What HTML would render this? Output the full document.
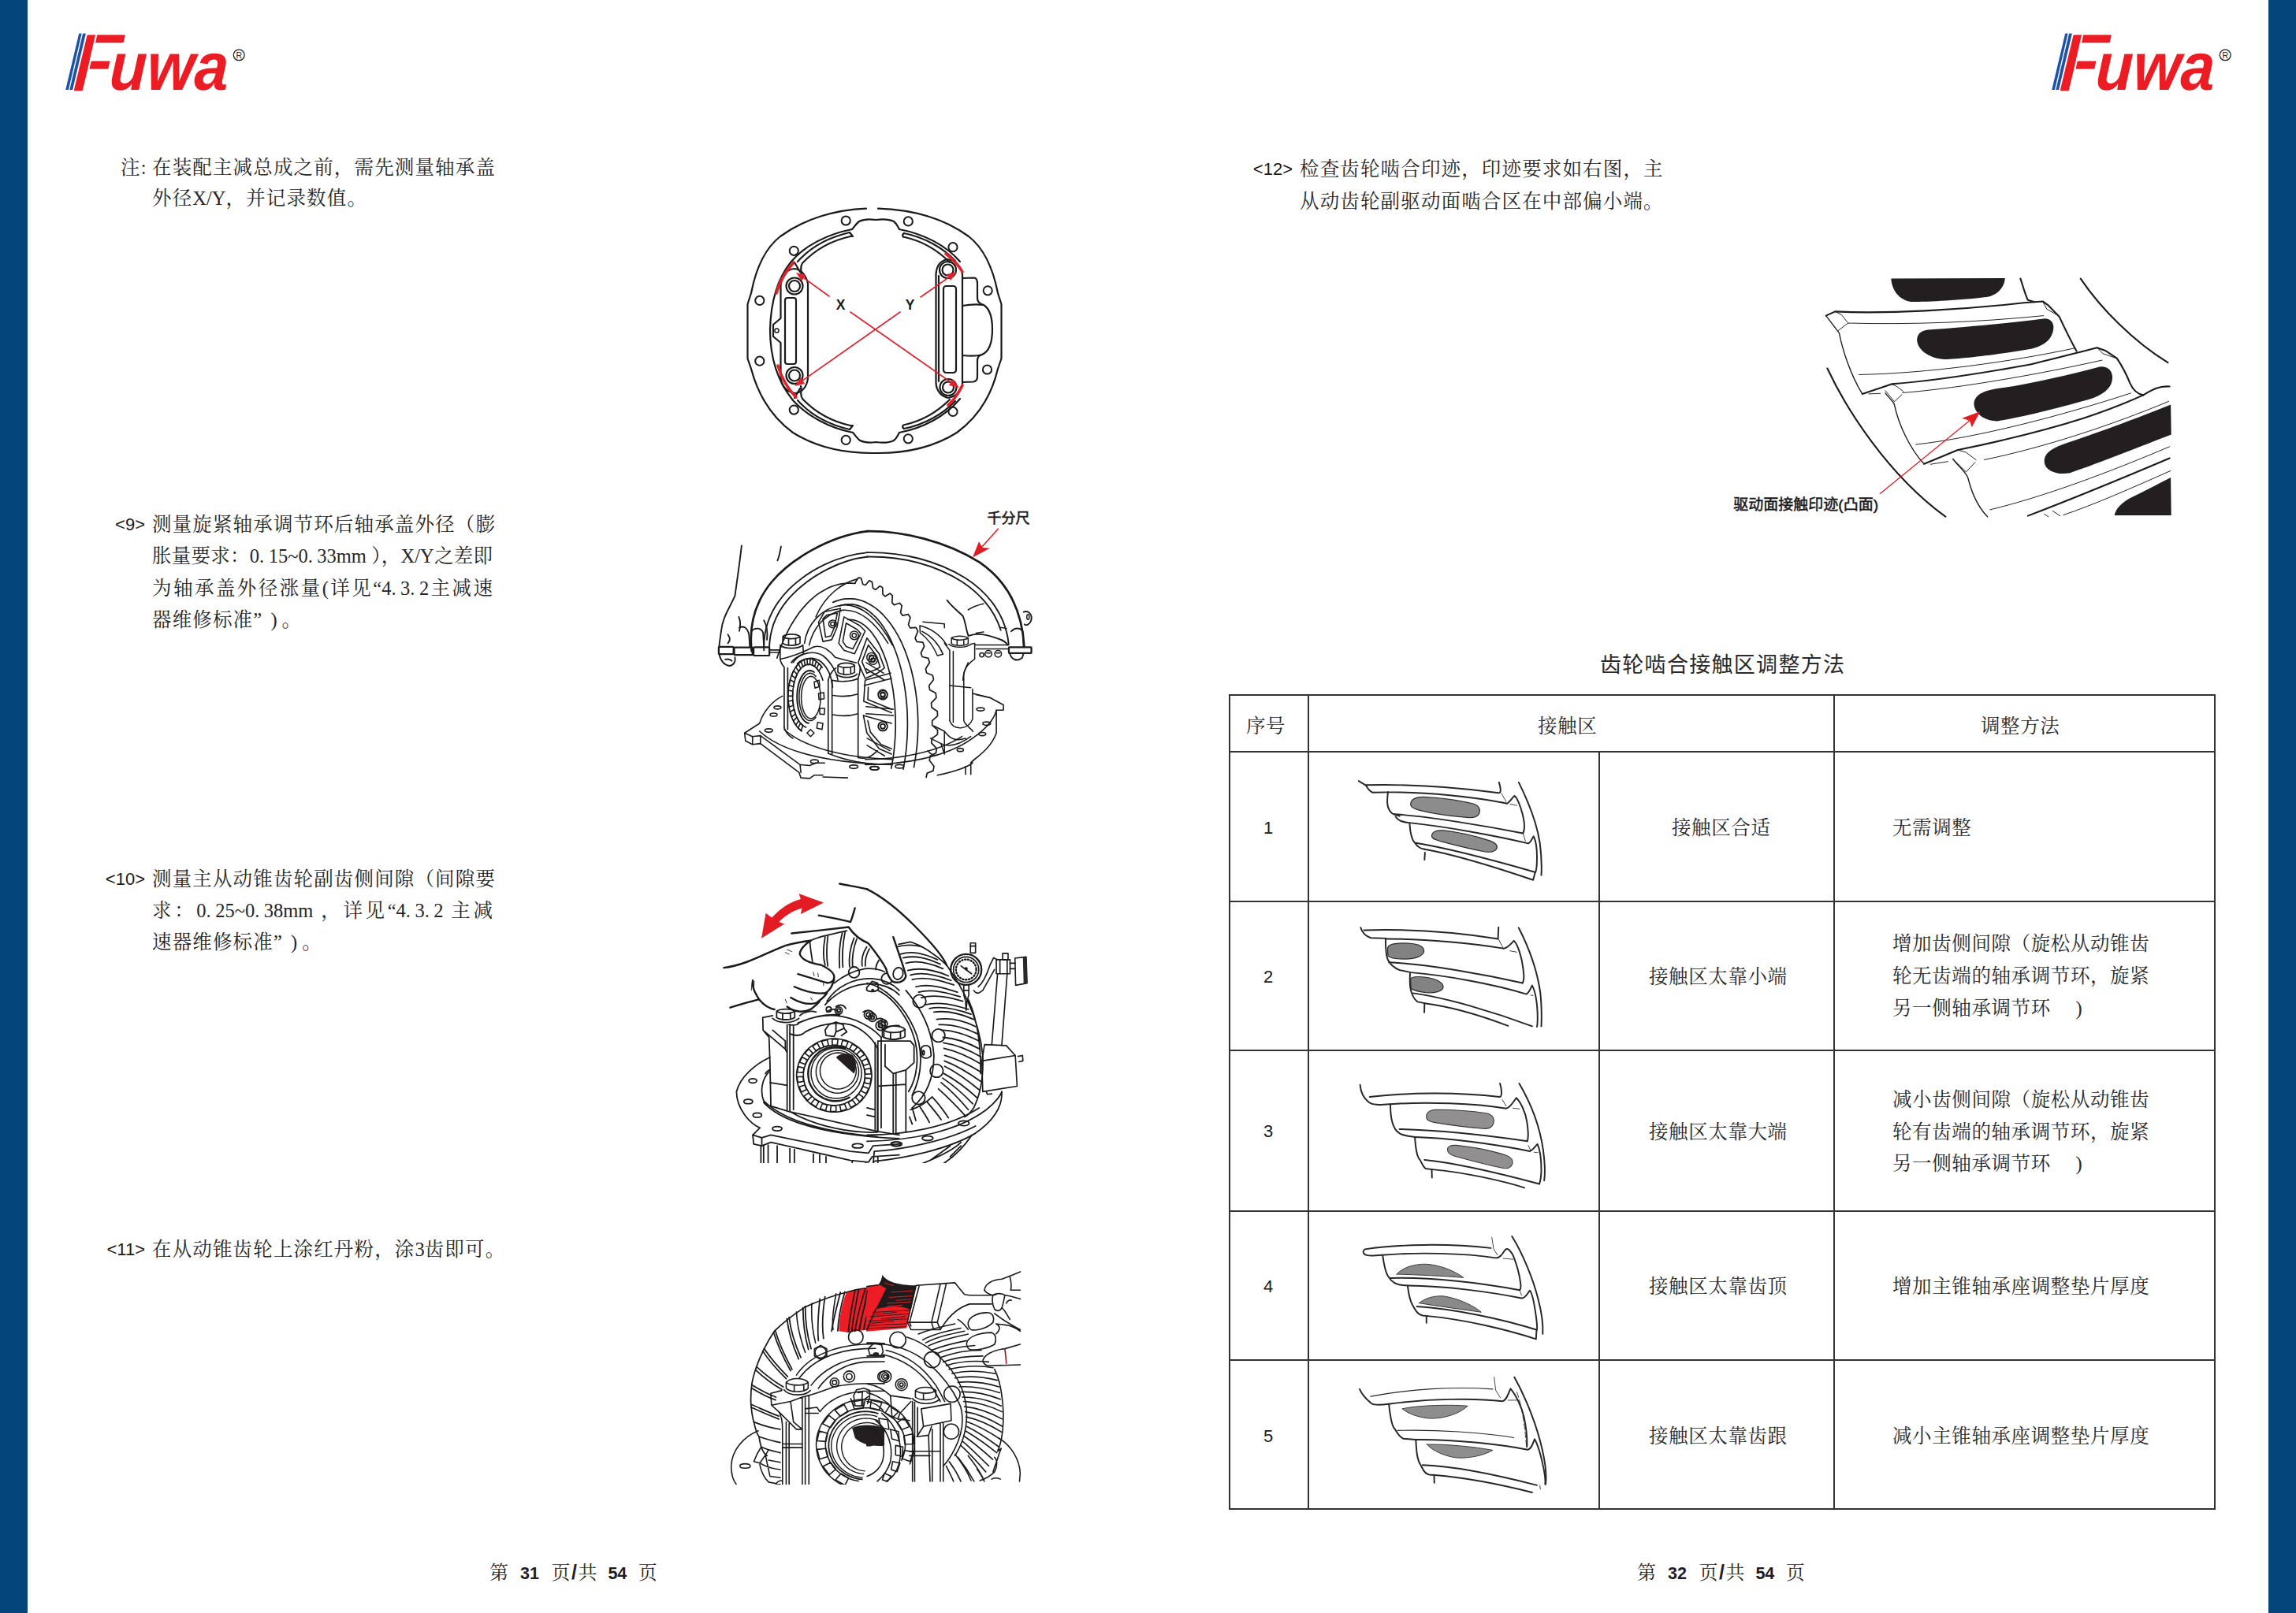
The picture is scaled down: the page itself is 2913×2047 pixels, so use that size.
<!DOCTYPE html>
<html lang="zh-CN">
<head>
<meta charset="utf-8">
<title>Fuwa 主减速器维修手册 第31-32页</title>
<style>
html,body{margin:0;padding:0;background:#fff;}
body{width:2913px;height:2047px;position:relative;overflow:hidden;font-family:"Liberation Serif","Noto Serif CJK SC",serif;color:#222;}
.bar{position:absolute;top:0;width:35px;height:2047px;background:#04457a;}
.t{position:absolute;white-space:nowrap;font-family:"Liberation Serif","Noto Serif CJK SC",serif;font-size:24.5px;letter-spacing:1.15px;line-height:40px;height:40px;color:#262626;font-weight:400;}
.n{position:absolute;white-space:nowrap;font-family:"Liberation Sans","Noto Sans CJK SC",sans-serif;font-size:22px;line-height:40px;height:40px;color:#1a1a1a;text-align:right;width:80px;}
.pg{position:absolute;white-space:nowrap;font-family:"Liberation Serif","Noto Serif CJK SC",serif;font-size:24px;line-height:40px;color:#2a2a2a;}
.g{display:inline-block;height:1px;}
.pg b.sl{font-size:25px;font-weight:700;padding:0 1.5px;}
.pg b{font-family:"Liberation Sans","Noto Sans CJK SC",sans-serif;font-weight:700;font-size:21.5px;color:#1c1c24;}
.ttl{position:absolute;white-space:nowrap;font-family:"Liberation Sans","Noto Sans CJK SC",sans-serif;font-size:27px;letter-spacing:1.3px;line-height:40px;color:#2a2a2a;}
.hl{position:absolute;height:2px;background:#333;}
.vl{position:absolute;width:2px;background:#333;}
.c{position:absolute;white-space:nowrap;font-family:"Liberation Serif","Noto Serif CJK SC",serif;font-size:24.5px;letter-spacing:0.6px;line-height:40px;height:40px;color:#2a2a2a;}
.num{position:absolute;white-space:nowrap;font-family:"Liberation Sans",sans-serif;font-size:22px;line-height:40px;height:40px;color:#1a1a1a;width:100px;text-align:center;}
.j{width:432px;text-align:justify;text-align-last:justify;letter-spacing:0;}
.l{font-family:"Liberation Serif",serif;letter-spacing:0;}
.d{display:inline-block;width:11.6px;font-style:normal;text-align:left;}
svg{position:absolute;overflow:visible;}
</style>
</head>
<body>
<div class="bar" style="left:0"></div>
<div class="bar" style="left:2878px"></div>

<!-- LOGOS -->
<svg style="left:78px;top:36px" width="250" height="86" viewBox="78 36 250 86">
<polygon points="100.2,42.6 103.6,42.6 86.9,113.9 83.2,113.9" fill="#1c52a8"/>
<polygon points="105.1,42.6 108.9,42.6 92.1,113.9 88.3,113.9" fill="#1c52a8"/>
<g transform="translate(0,113.9) skewX(-3.3) translate(0,-113.9)"><text x="92.2" y="113.9" font-family="'Liberation Sans',sans-serif" font-weight="400" font-style="italic" font-size="99.5" fill="#ec1c24" stroke="#ec1c24" stroke-width="2.4" stroke-linejoin="round" textLength="57" lengthAdjust="spacingAndGlyphs">F</text></g>
<polygon points="121.8,41 124,41 113.4,88 111.2,88" fill="#fff"/><polygon points="140,75 148,75 145.2,88 137.2,88" fill="#fff"/>
<g transform="translate(0,113.9) skewX(-2.5) translate(0,-113.9)"><text x="138" y="113.9" font-family="'Liberation Sans',sans-serif" font-weight="700" font-style="italic" font-size="86" fill="#ec1c24" textLength="151" lengthAdjust="spacingAndGlyphs">uwa</text></g>
<circle cx="303.2" cy="69.8" r="6.9" fill="none" stroke="#222" stroke-width="1.3"/>
<text x="303.3" y="73.6" font-family="'Liberation Sans',sans-serif" font-size="10.5" fill="#222" text-anchor="middle">R</text>
</svg>
<svg style="left:2598px;top:36px" width="250" height="86" viewBox="78 36 250 86">
<polygon points="100.2,42.6 103.6,42.6 86.9,113.9 83.2,113.9" fill="#1c52a8"/>
<polygon points="105.1,42.6 108.9,42.6 92.1,113.9 88.3,113.9" fill="#1c52a8"/>
<g transform="translate(0,113.9) skewX(-3.3) translate(0,-113.9)"><text x="92.2" y="113.9" font-family="'Liberation Sans',sans-serif" font-weight="400" font-style="italic" font-size="99.5" fill="#ec1c24" stroke="#ec1c24" stroke-width="2.4" stroke-linejoin="round" textLength="57" lengthAdjust="spacingAndGlyphs">F</text></g>
<polygon points="121.8,41 124,41 113.4,88 111.2,88" fill="#fff"/><polygon points="140,75 148,75 145.2,88 137.2,88" fill="#fff"/>
<g transform="translate(0,113.9) skewX(-2.5) translate(0,-113.9)"><text x="138" y="113.9" font-family="'Liberation Sans',sans-serif" font-weight="700" font-style="italic" font-size="86" fill="#ec1c24" textLength="151" lengthAdjust="spacingAndGlyphs">uwa</text></g>
<circle cx="303.2" cy="69.8" r="6.9" fill="none" stroke="#222" stroke-width="1.3"/>
<text x="303.3" y="73.6" font-family="'Liberation Sans',sans-serif" font-size="10.5" fill="#222" text-anchor="middle">R</text>
</svg>

<!-- LEFT PAGE TEXT -->
<div class="t" style="left:153px;top:193px">注:</div>
<div class="t" style="left:193px;top:193px">在装配主减总成之前，需先测量轴承盖</div>
<div class="t" style="left:193px;top:232px">外径<span class="l">X/Y</span>，并记录数值。</div>

<div class="n" style="left:104px;top:646px">&lt;9&gt;</div>
<div class="t" style="left:193px;top:646px">测量旋紧轴承调节环后轴承盖外径（膨</div>
<div class="t j" style="left:193px;top:686px">胀量要求：<span class="l">0<i class="d">.</i>15~0<i class="d">.</i>33mm</span> ），<span class="l">X/Y</span>之差即</div>
<div class="t j" style="left:193px;top:727px">为轴承盖外径涨量<span class="l">(</span>详见“<span class="l">4<i class="d">.</i>3<i class="d">.</i>2</span>主减速</div>
<div class="t" style="left:193px;top:767px">器维修标准”<span class="l" style="margin:0 6px 0 4px">&nbsp;)</span>。</div>

<div class="n" style="left:104px;top:1096px">&lt;10&gt;</div>
<div class="t" style="left:193px;top:1096px">测量主从动锥齿轮副齿侧间隙（间隙要</div>
<div class="t j" style="left:193px;top:1136px">求：<span class="l">0<i class="d">.</i>25~0<i class="d">.</i>38mm</span> ，详见“<span class="l">4<i class="d">.</i>3<i class="d">.</i>2</span> 主减</div>
<div class="t" style="left:193px;top:1176px">速器维修标准”<span class="l" style="margin:0 6px 0 4px">&nbsp;)</span>。</div>

<div class="n" style="left:104px;top:1566px">&lt;11&gt;</div>
<div class="t" style="left:193px;top:1566px">在从动锥齿轮上涂红丹粉，涂<span class="l">3</span>齿即可。</div>

<!-- RIGHT PAGE TEXT -->
<div class="n" style="left:1560px;top:195px">&lt;12&gt;</div>
<div class="t" style="left:1649px;top:195px">检查齿轮啮合印迹，印迹要求如右图，主</div>
<div class="t" style="left:1649px;top:236px">从动齿轮副驱动面啮合区在中部偏小端。</div>

<!-- PAGE NUMBERS -->
<div class="pg" style="left:621px;top:1975px">第<i class="g" style="width:15px"></i><b>31</b><i class="g" style="width:15.5px"></i>页<b class="sl">/</b>共<i class="g" style="width:14px"></i><b>54</b><i class="g" style="width:14.5px"></i>页</div>
<div class="pg" style="left:2077px;top:1975px">第<i class="g" style="width:15px"></i><b>32</b><i class="g" style="width:15.5px"></i>页<b class="sl">/</b>共<i class="g" style="width:14px"></i><b>54</b><i class="g" style="width:14.5px"></i>页</div>

<!-- TABLE -->
<div class="ttl" style="left:2030px;top:824px">齿轮啮合接触区调整方法</div>
<div class="hl" style="left:1559px;top:881px;width:1252px"></div>
<div class="hl" style="left:1559px;top:953px;width:1252px"></div>
<div class="hl" style="left:1559px;top:1143px;width:1252px"></div>
<div class="hl" style="left:1559px;top:1332px;width:1252px"></div>
<div class="hl" style="left:1559px;top:1536px;width:1252px"></div>
<div class="hl" style="left:1559px;top:1725px;width:1252px"></div>
<div class="hl" style="left:1559px;top:1914px;width:1252px"></div>
<div class="vl" style="left:1559px;top:881px;height:1035px"></div>
<div class="vl" style="left:1659px;top:881px;height:1035px"></div>
<div class="vl" style="left:2028px;top:953px;height:963px"></div>
<div class="vl" style="left:2326px;top:881px;height:1035px"></div>
<div class="vl" style="left:2809px;top:881px;height:1035px"></div>

<div class="c" style="left:1581px;top:902px">序号</div>
<div class="c" style="left:1951px;top:902px">接触区</div>
<div class="c" style="left:2513px;top:902px">调整方法</div>

<div class="num" style="left:1559px;top:1031px">1</div>
<div class="num" style="left:1559px;top:1220px">2</div>
<div class="num" style="left:1559px;top:1416px">3</div>
<div class="num" style="left:1559px;top:1613px">4</div>
<div class="num" style="left:1559px;top:1803px">5</div>

<div class="c" style="left:2121px;top:1031px">接触区合适</div>
<div class="c" style="left:2092px;top:1220px">接触区太靠小端</div>
<div class="c" style="left:2092px;top:1417px">接触区太靠大端</div>
<div class="c" style="left:2092px;top:1613px">接触区太靠齿顶</div>
<div class="c" style="left:2092px;top:1803px">接触区太靠齿跟</div>

<div class="c" style="left:2401px;top:1031px">无需调整</div>
<div class="c" style="left:2401px;top:1178px">增加齿侧间隙（旋松从动锥齿</div>
<div class="c" style="left:2401px;top:1219px">轮无齿端的轴承调节环，旋紧</div>
<div class="c" style="left:2401px;top:1260px">另一侧轴承调节环　 )</div>
<div class="c" style="left:2401px;top:1376px">减小齿侧间隙（旋松从动锥齿</div>
<div class="c" style="left:2401px;top:1417px">轮有齿端的轴承调节环，旋紧</div>
<div class="c" style="left:2401px;top:1457px">另一侧轴承调节环　 )</div>
<div class="c" style="left:2401px;top:1613px">增加主锥轴承座调整垫片厚度</div>
<div class="c" style="left:2401px;top:1803px">减小主锥轴承座调整垫片厚度</div>

<!-- ILLUSTRATIONS -->
<!--FIG1S--><svg style="left:930px;top:250px" width="360" height="340" viewBox="930 250 360 340" fill="none" stroke="#1a1a1a" stroke-width="2.2" stroke-linecap="round" stroke-linejoin="round">
<!-- outer housing outline -->
<path d="M1099,264.6 C1060,266 1020,278 990,300 C972,314 960,336 953,372 L948.5,386 L948.5,455 L953,468 C962,502 980,530 1006,549 C1036,568 1072,575.5 1110,575 C1148,575.5 1184,568 1214,549 C1240,530 1258,502 1266,468 L1270.5,455 L1270.5,386 L1266,372 C1259,336 1247,314 1229,300 C1199,278 1159,266 1114,264.6"/>
<!-- inner ring outer edge -->
<path d="M1081,291 C1050,297 1020,312 1003,333 C988,352 978,380 977,418 C977,455 988,486 1006,508 C1024,528 1052,543 1082,549"/>
<path d="M1141,291 C1172,297 1200,311 1218,332 M1218,506 C1200,528 1172,543 1141,549"/>
<!-- top notch -->
<path d="M1081,291 C1084,288 1086,284 1090,281 C1096,278 1104,278 1111,279 C1118,278 1128,278 1134,281 C1138,284 1139,288 1141,291"/>
<path d="M1082,549 C1085,552 1087,556 1091,559 C1097,562 1104,562 1111,561 C1118,562 1128,562 1134,559 C1138,556 1139,552 1141,549"/>
<!-- inner rib arcs top-left -->
<path d="M1078,295 C1052,301 1028,314 1012,332 M1079,300 C1056,305 1034,317 1018,334 C1014,340 1018,344 1016,350"/>
<path d="M1078,295 L1082,300 L1079,300" />
<path d="M1147,296 C1172,301 1196,314 1212,331 M1148,301 C1170,306 1190,318 1205,333"/>
<path d="M1147,296 C1144,298 1145,301 1148,301"/>
<path d="M1078,545 C1052,539 1028,526 1012,508 M1079,540 C1056,535 1034,523 1018,506 C1014,500 1018,496 1016,490"/>
<path d="M1078,545 L1082,540 L1079,540"/>
<path d="M1147,544 C1172,539 1196,526 1212,509 M1148,539 C1170,534 1190,522 1205,507"/>
<path d="M1147,544 C1144,542 1145,539 1148,539"/>
<!-- bolt holes -->
<g stroke-width="2">
<circle cx="1073.2" cy="280" r="5.6"/><circle cx="1152.3" cy="280.9" r="5.6"/>
<circle cx="1007.3" cy="318.3" r="5.6"/><circle cx="1209" cy="313.7" r="5.6"/>
<circle cx="963.8" cy="381.4" r="5.6"/><circle cx="1253.2" cy="368.8" r="5.6"/>
<circle cx="963.8" cy="458.2" r="5.6"/><circle cx="1252.5" cy="469" r="5.6"/>
<circle cx="1007.3" cy="520.1" r="5.6"/><circle cx="1209" cy="522.4" r="5.6"/>
<circle cx="1073.2" cy="558.4" r="5.6"/><circle cx="1152.3" cy="556.8" r="5.6"/>
</g>
<!-- left bearing cap -->
<path d="M1008,341 C998,342 992,350 990.5,362 L990.5,404 L981,412 L981,427 L990.5,435 L990.5,480 C992,492 1000,498 1009,499 C1018,498 1024,490 1025,480 L1025,360 C1023,350 1017,342 1008,341 Z"/>
<rect x="996" y="378" width="14" height="84" rx="3"/>
<circle cx="1008" cy="363" r="10.5"/><circle cx="1008" cy="363" r="7"/>
<circle cx="1008" cy="476.5" r="10.5"/><circle cx="1008" cy="476.5" r="7"/>
<circle cx="985.5" cy="419.5" r="2.6" stroke-width="1.5"/>
<path d="M1008,333 L1015,345 M1008,505 L1015,493"/>
<!-- right bearing cap -->
<path d="M1202,329 C1193,331 1188,338 1187.5,348 L1187.5,486 C1188,496 1194,503 1203,505 C1212,503 1219,497 1221,488 L1221,348 C1219,338 1212,331 1202,329 Z"/>
<path d="M1191,350 L1191,484"/>
<rect x="1197" y="363" width="16" height="110" rx="3.5"/>
<circle cx="1202.5" cy="342.5" r="10.5"/><circle cx="1202.5" cy="342.5" r="7"/>
<circle cx="1203" cy="491.5" r="10.5"/><circle cx="1203" cy="491.5" r="7"/>
<!-- right bracket -->
<path d="M1221,353 L1236,352.5 C1239,353 1240,356 1240,360 L1240,378 C1240,384 1244,386 1248,387 C1256,392 1259,404 1259,418 C1259,434 1255,446 1246,450 C1241,451 1240,454 1240,458 L1240,478 C1240,482 1238,484 1235,484.5 L1221,485"/>
<path d="M1221,388 C1232,386 1240,386 1248,387 M1221,451 C1232,452 1240,452 1246,450"/>
<!-- red measurement lines -->
<g stroke="#e0202a" stroke-width="1.6">
<path d="M1016,350 L1052,376 M1079,396 L1212,489"/>
<path d="M1208,349 L1168,377 M1142,396 L1014,486"/>
</g>
<g stroke="#e0202a" stroke-width="3.6">
<path d="M1007,333 C996,345 989,358 985,372"/>
<path d="M987,464 C991,478 998,492 1010,504"/>
<path d="M1200,322 C1209,329 1216,336 1221,345"/>
<path d="M1221,489 C1216,499 1210,508 1203,514"/>
</g>
<g fill="#e0202a" stroke="none">
<polygon points="1010,346 1022,349 1017,357"/>
<polygon points="1214,345 1201,348 1206,356"/>
<polygon points="1008,490 1021,487 1016,479"/>
<polygon points="1217,492 1204,489 1209,481"/>
</g>
<g fill="#1a1a1a" stroke="none" font-family="'Liberation Sans',sans-serif" font-weight="700" font-size="17.5" text-anchor="middle">
<text x="1066.5" y="392.5">X</text><text x="1154.5" y="392.5">Y</text>
</g>
</svg><!--FIG1E-->
<!--FIG2S--><svg style="left:890px;top:640px;overflow:hidden" width="450" height="349" viewBox="890 640 450 349">
<g fill="none" stroke="#1b1b1b" stroke-linecap="round" stroke-linejoin="round">
<g stroke-width="1.7">
<path d="M1085.0,739.5 L1089.0,733.1 L1092.5,733.7 L1094.8,741.5 L1098.1,742.5 L1102.9,736.9 L1106.3,738.3 L1107.7,746.6 L1110.8,748.3 L1116.4,743.6 L1119.7,745.7 L1120.1,754.4 L1123.1,756.8 L1129.2,753.1 L1132.3,755.9 L1131.8,764.8 L1134.6,767.8 L1141.3,765.2 L1144.2,768.6 L1142.6,777.6 L1145.2,781.2 L1152.4,779.7 L1154.9,783.7 L1152.5,792.7 L1154.7,796.8 L1162.2,796.4 L1164.5,800.9 L1161.1,809.8 L1163.1,814.3 L1170.8,815.1 L1172.7,820.0 L1168.4,828.6 L1170.1,833.5 L1177.8,835.4 L1179.4,840.7 L1174.4,848.8 L1175.6,854.0 L1183.3,857.0 L1184.5,862.6 L1178.7,870.1 L1179.6,875.6 L1187.2,879.6 L1187.9,885.3 L1181.5,892.2 L1182.0,897.8 L1189.3,902.8 L1189.5,908.7 L1182.7,914.7 L1182.7,920.4 L1189.6,926.3 L1189.4,932.1 L1182.2,937.3 L1181.8,942.9 L1188.2,949.6 L1187.6,955.4 L1180.0,959.6 L1179.2,965.1 L1185.0,972.5 L1184.0,978.1 L1176.2,981.3 L1175.1,986.5"/>
<path d="M985.9,835.1 L988.3,827.6 L991.0,820.3 L993.8,813.3 L996.9,806.5 L1000.1,799.9 L1003.5,793.6 L1007.1,787.7 L1010.9,782.0 L1014.7,776.6 L1018.8,771.6 L1023.0,766.9 L1027.3,762.5 L1031.7,758.6 L1036.2,754.9 L1040.9,751.7 L1045.6,748.9 L1050.3,746.4 L1055.2,744.3 L1060.1,742.7 L1065.0,741.4 L1070.0,740.6 L1075.0,740.2 L1080.0,740.1 L1085.0,740.5"/>
<path d="M1056.7,764.4 L1061.2,762.6 L1065.9,761.2 L1070.6,760.2 L1075.3,759.8 L1080.0,759.8 L1084.7,760.2 L1089.4,761.1 L1094.0,762.5 L1098.6,764.4 L1103.1,766.7 L1107.6,769.4 L1112.0,772.6 L1116.2,776.2 L1120.4,780.2 L1124.4,784.7 L1128.3,789.5 L1132.1,794.7 L1135.7,800.3 L1139.1,806.2 L1142.4,812.4 L1145.4,819.0 L1148.3,825.9 L1150.9,833.0 L1153.3,840.4 L1155.6,848.0 L1157.5,855.8 L1159.3,863.8 L1160.8,872.0 L1162.1,880.3 L1163.1,888.7 L1163.9,897.2 L1164.4,905.8 L1164.7,914.4 L1164.7,923.0 L1164.4,931.6 L1163.9,940.2 L1163.2,948.7 L1162.2,957.1 L1160.9,965.4 L1159.5,973.6"/>
<path d="M1064.9,769.1 L1068.8,767.9 L1072.7,767.2 L1076.6,766.8 L1080.5,766.9 L1084.4,767.4 L1088.3,768.4 L1092.2,769.8 L1096.0,771.6 L1099.8,773.8 L1103.5,776.4 L1107.1,779.5 L1110.7,782.9 L1114.2,786.7 L1117.5,790.9 L1120.8,795.5 L1123.9,800.4 L1126.9,805.7 L1129.7,811.2 L1132.4,817.1 L1135.0,823.3 L1137.4,829.7 L1139.6,836.4 L1141.6,843.3 L1143.5,850.4 L1145.2,857.8 L1146.6,865.3 L1147.9,872.9 L1149.0,880.7 L1149.9,888.6 L1150.6,896.6 L1151.1,904.6 L1151.3,912.7 L1151.4,920.8 L1151.2,928.9 L1150.9,937.0 L1150.3,945.0 L1149.6,953.0 L1148.6,960.8 L1147.4,968.6 L1146.0,976.2"/>
<path d="M1075.7,786.4 L1078.6,786.3 L1081.6,786.6 L1084.6,787.2 L1087.6,788.2 L1090.5,789.5 L1093.4,791.2 L1096.2,793.1 L1099.0,795.5 L1101.8,798.1 L1104.5,801.0 L1107.1,804.3 L1109.6,807.9 L1112.1,811.7 L1114.5,815.8 L1116.7,820.2 L1118.9,824.9 L1121.0,829.8 L1122.9,834.9 L1124.8,840.2 L1126.5,845.8 L1128.1,851.5 L1129.5,857.5 L1130.8,863.6 L1132.0,869.8 L1133.1,876.1 L1133.9,882.6 L1134.7,889.2 L1135.3,895.8 L1135.7,902.5 L1136.0,909.3 L1136.2,916.0 L1136.2,922.8 L1136.0,929.6 L1135.7,936.3 L1135.2,943.0 L1134.6,949.7 L1133.9,956.2 L1133.0,962.7 L1131.9,969.0 L1130.7,975.2"/>
</g>
<g transform="translate(890,640) scale(0.223256)">
<g stroke-width="12">
<path d="M285,835 C270,700 300,560 400,440 C500,320 720,180 945,153"/>
</g>
<g stroke-width="8.5">
<path d="M355,830 C350,700 400,580 500,480 C610,375 770,290 945,274"/>
<path d="M385,830 C385,710 430,600 520,510 C630,400 790,315 945,298"/>
<path d="M228,235 C215,350 200,450 190,520 C160,590 120,640 112,720 C105,770 100,800 100,815"/>
<path d="M452,240 C445,280 440,300 432,320"/>
<path d="M212,640 C225,670 220,700 215,720 M150,740 C165,760 165,775 150,790"/>
<path d="M215,700 C240,690 260,700 270,740 L275,810 M285,720 C300,700 340,700 350,730 L355,810 M355,660 C372,690 378,720 372,770"/>
<path d="M100,852 C110,890 130,915 160,918 C185,915 195,890 190,870 M135,882 C150,878 165,882 172,890"/>
</g>
<g stroke-width="10">
<rect x="98" y="810" width="84" height="42" rx="5"/><rect x="186" y="814" width="104" height="42" rx="4"/><rect x="296" y="812" width="90" height="48" rx="5"/>
</g>
<g stroke-width="7.4">
<path d="M386,828 L446,828 M386,842 L446,842"/>
<path d="M462,752 L462,790 C480,806 540,806 560,790 L560,752 C540,734 480,734 462,752 Z M462,752 C480,768 540,768 560,752 M495,764 L495,802 M535,762 L535,800"/>
<path d="M448,800 C470,824 550,824 576,800 M447,805 L447,880 C450,900 460,915 470,925 L470,1270 M490,930 L490,1280 M576,800 L580,850 C560,860 530,870 510,900"/>
<path d="M470,1270 C480,1300 500,1320 520,1330 M447,880 C500,870 560,850 640,810 C680,800 720,820 760,870"/>
<path d="M520,900 C560,840 640,830 690,860 C740,900 770,960 775,1000"/>
<path d="M545,905 C580,870 640,865 680,895 C720,930 740,980 745,1040"/>
</g>
<g stroke-width="7.4"><path d="M566,1287 L576,1257 L563,1244 L549,1272 Z M536,1255 L552,1230 L542,1210 L522,1232 Z M512,1209 L534,1191 L527,1166 L503,1180 Z M497,1152 L522,1143 L519,1115 L493,1120 Z M492,1090 L518,1090 L519,1062 L493,1057 Z M497,1028 L522,1037 L527,1011 L504,997 Z M512,971 L534,989 L543,967 L524,945 Z M536,925 L552,950 L564,934 L551,906 Z M566,893 L576,923 L589,915 L583,883 Z M600,879 L602,911 L616,910 L618,879 Z M635,883 L629,914 L643,922 L652,892 Z M667,905 L655,933 L667,948 L683,923 Z"/>
<path d="M569.6,1289.2 L557.0,1279.5 L545.2,1267.1 L534.2,1252.4 L524.2,1235.5 L515.3,1216.6 L507.8,1196.0 L501.7,1174.0 L497.0,1150.8 L493.8,1126.8 L492.2,1102.3 L492.2,1077.7 L493.8,1053.2 L497.0,1029.2 L501.7,1006.0 L507.8,984.0 L515.3,963.4 L524.2,944.5 L534.2,927.6 L545.2,912.9 L557.0,900.5 L569.6,890.8 L582.8,883.7 L596.3,879.4 L610.0,878.0 L623.7,879.4 L637.2,883.7 L650.4,890.8 L663.0,900.5 L674.8,912.9 L685.8,927.6"/>
<path d="M594.0,1267.3 L582.1,1261.5 L570.6,1252.7 L559.9,1241.0 L550.0,1226.5 L541.3,1209.7 L533.7,1190.7 L527.5,1169.8 L522.8,1147.6 L519.7,1124.3 L518.2,1100.5 L518.3,1076.4 L520.0,1052.6 L523.4,1029.4 L528.3,1007.4 L534.6,986.8 L542.4,968.0 L551.3,951.4 L561.2,937.4 L572.1,926.0 L583.6,917.6 L595.6,912.2 L607.9,910.0 L620.1,911.1 L632.3,915.3 L644.0,922.7 L655.1,933.1 L665.4,946.2 L674.7,962.0 L682.8,980.0 L689.7,1000.0"/>
</g>
<g stroke-width="9"><path d="M608.7,1244.4 L600.6,1242.0 L592.8,1237.7 L585.1,1231.5 L577.9,1223.6 L571.2,1214.0 L565.0,1202.9 L559.4,1190.4 L554.6,1176.7 L550.6,1161.9 L547.3,1146.3 L545.0,1130.0 L543.5,1113.3 L543.0,1096.3 L543.4,1079.3 L544.7,1062.5 L546.9,1046.2 L550.0,1030.4 L553.9,1015.5 L558.7,1001.6 L564.1,988.9 L570.2,977.6 L576.8,967.8 L584.0,959.6 L591.6,953.2 L599.4,948.6 L607.5,945.8 L615.6,945.0 L623.8,946.1 L631.8,949.1 L639.6,954.0"/></g>
<g stroke-width="6.8"><path d="M677.0,1098.0 L676.3,1116.8 L674.3,1135.1 L671.0,1152.5 L666.5,1168.5 L660.9,1182.9 L654.3,1195.1 L647.0,1204.9 L639.0,1212.1 L630.6,1216.5 L622.0,1218.0 L613.4,1216.5 L605.0,1212.1 L597.0,1204.9 L589.7,1195.1 L583.1,1182.9 L577.5,1168.5 L573.0,1152.5 L569.7,1135.1 L567.7,1116.8 L567.0,1098.0 L567.7,1079.2 L569.7,1060.9 L573.0,1043.5 L577.5,1027.5 L583.1,1013.1 L589.7,1000.9 L597.0,991.1 L605.0,983.9 L613.4,979.5 L622.0,978.0 L630.6,979.5 L639.0,983.9 L647.0,991.1 L654.3,1000.9 L660.9,1013.1 L666.5,1027.5 L671.0,1043.5 L674.3,1060.9 L676.3,1079.2 L677.0,1098.0 Z"/><path d="M649.5,1211.9 L641.6,1220.2 L633.2,1226.0 L624.6,1229.3 L615.8,1229.9 L607.1,1227.9 L598.5,1223.4 L590.4,1216.3 L582.8,1206.9 L575.8,1195.3 L569.7,1181.8 L564.6,1166.5 L560.4,1149.9 L557.4,1132.2 L555.6,1113.8 L555.0,1095.0 L555.6,1076.2 L557.4,1057.8 L560.4,1040.1 L564.6,1023.5 L569.7,1008.2 L575.8,994.7 L582.8,983.1 L590.4,973.7 L598.5,966.6 L607.1,962.1 L615.8,960.1 L624.6,960.7 L633.2,964.0 L641.6,969.8 L649.5,978.1"/>
<path d="M640,1010 L668,1000 L672,1035 L645,1045 Z M665,1075 L695,1070 L697,1105 L668,1110 Z M672,1160 L700,1160 L698,1195 L672,1192 Z M660,1240 L690,1245 L685,1280 L655,1272 Z M620,1280 L640,1300 L620,1320 L600,1300 Z"/>
</g>
<g stroke-width="7.4">
<path d="M775,915 L775,955 C795,972 850,972 870,955 L870,915 C850,898 795,898 775,915 Z M775,915 C795,932 850,932 870,915 M808,928 L808,968 M848,926 L848,964"/>
<path d="M765,965 C790,990 860,990 885,965"/>
<path d="M742,1000 C780,1010 850,1010 890,990 L890,1440 M742,1000 L742,1420 M720,1000 L720,1415 M742,1085 C790,1095 850,1090 890,1078 M742,1195 C790,1205 850,1202 890,1190"/>
<path d="M720,1000 C730,960 750,940 765,930 M890,990 C900,960 905,940 900,920"/>
<path d="M720,1415 C800,1450 900,1470 1000,1478"/>
</g>
<g stroke-width="7.2">
<path d="M585,790 C600,680 680,590 800,572 C900,565 1000,640 1085,800"/>
<path d="M612,800 C635,700 700,625 800,602 C890,595 980,660 1060,790"/>
<path d="M650,640 C700,520 800,445 885,425"/>
<path d="M665,670 L700,610 L790,592 L770,700 L740,770 L690,780 Z"/>
<path d="M690,650 L712,630 L772,618 L755,700 L735,748 L705,755 Z"/>
<path d="M810,640 L900,690 L930,720 L870,850 L810,830 L780,790 Z"/>
<path d="M822,675 L885,712 L905,735 L860,822 L822,808 L803,780 Z"/>
<path d="M940,760 L1010,850 L1040,930 L1000,960 L930,990 L890,900 Z"/>
<path d="M948,800 L995,862 L1015,925 L990,940 L940,960 L912,895 Z"/>
<path d="M930,1000 L1075,960 M925,1030 L1080,990 M930,1000 L922,1120 L1080,1185 M948,1040 L945,1110 L1080,1165"/>
<path d="M920,1200 L1080,1245 M920,1200 L940,1300 L1010,1390 L1080,1420 M945,1230 L960,1295 L1020,1365 L1080,1390"/>
<path d="M890,1440 C930,1450 960,1440 1000,1400"/>
<path d="M760,870 C800,880 850,895 880,900"/>
</g>
<g stroke-width="6.8">
<circle cx="745" cy="680" r="22"/><circle cx="745" cy="680" r="11"/>
<circle cx="868" cy="745" r="24"/><circle cx="868" cy="745" r="12"/>
<circle cx="975" cy="885" r="25"/><circle cx="975" cy="885" r="12"/>
<circle cx="1030" cy="1080" r="26"/><circle cx="1030" cy="1080" r="13"/>
<circle cx="1030" cy="1262" r="26"/><circle cx="1030" cy="1262" r="13"/>
</g>
<g stroke-width="7.2">
<path d="M460,1090 C400,1120 350,1180 330,1245 L245,1300 L250,1345 L290,1365 L335,1360 L555,1525 L565,1555 L615,1558 L640,1540 L690,1540"/>
<path d="M245,1300 L290,1320 L335,1315 L560,1480 L565,1525 M290,1320 L290,1365 M335,1315 L335,1360 M560,1480 L615,1485 L650,1470 L700,1470"/>
<path d="M330,1290 C450,1400 700,1470 1085,1480"/>
<path d="M470,1280 C580,1380 800,1440 1085,1450"/>
<path d="M690,1550 L830,1555"/>
<ellipse cx="432" cy="1155" rx="20" ry="9"/><ellipse cx="410" cy="1196" rx="20" ry="9"/><ellipse cx="382" cy="1286" rx="22" ry="10"/>
<ellipse cx="642" cy="1462" rx="22" ry="10"/><ellipse cx="865" cy="1492" rx="24" ry="10"/><ellipse cx="985" cy="1500" rx="24" ry="10"/>
</g>
</g>
<g transform="translate(1100,640) scale(0.223256)">
<g stroke-width="12">
<path d="M0,153 C200,150 450,210 640,330 C800,440 880,600 893,805"/>
</g>
<g stroke-width="8.5">
<path d="M0,274 C200,270 400,320 560,420 C700,510 790,640 805,795"/>
<path d="M0,298 C190,295 380,340 540,440 C660,520 730,620 760,715"/>
<path d="M455,545 C480,580 520,610 545,635 C560,670 560,700 575,745"/>
<path d="M578,748 C620,730 680,740 740,762 C770,772 790,780 800,800"/>
<path d="M820,722 C840,700 870,700 885,722 L890,812 M812,850 C822,882 852,897 882,872 L890,846"/>
<path d="M890,612 C920,600 942,630 932,662 C926,682 902,692 895,682"/>
</g>
<g stroke-width="10"><rect x="806" y="812" width="128" height="34" rx="3"/></g>
<g stroke-width="6.8">
<ellipse cx="915" cy="640" rx="7" ry="14"/>
<path d="M575,600 C600,580 640,570 662,565 M620,732 L662,726 M760,700 L792,706"/>
<circle cx="690" cy="850" r="19"/><circle cx="745" cy="850" r="19"/><circle cx="652" cy="856" r="12"/>
<path d="M615,800 L805,800 M620,822 L800,822 M680,845 L700,845 M735,845 L755,845"/>
<path d="M480,760 L480,792 C498,806 555,806 575,792 L575,760 C555,745 498,745 480,760 Z M480,760 C498,775 555,775 575,760 M512,770 L512,802 M550,768 L550,800"/>
<path d="M465,795 C490,818 565,818 590,795"/>
<path d="M440,790 L470,830 L470,1230 M490,835 L490,1240 M455,800 L440,790 M590,795 L612,790 L612,880 C580,900 562,920 550,960 L550,1230 C560,1260 590,1270 602,1292"/>
<path d="M575,900 C560,930 545,960 545,1000 M470,1030 L590,1042 M470,1230 C480,1260 500,1275 540,1270 C570,1265 590,1250 600,1220 L600,1050"/>
<path d="M300,690 C350,700 420,740 452,800 M312,722 C352,742 402,782 432,852 M318,668 L440,680 L440,702 M300,690 L302,730 C340,760 380,810 400,860 L432,852"/>
<path d="M380,1260 L440,1290 C470,1330 500,1350 560,1330 M360,1330 L420,1360 L440,1420 M440,1290 L440,1420 M420,1360 C460,1380 520,1370 590,1320"/>
<path d="M345,1400 C360,1420 380,1430 400,1425"/>
</g>
<g stroke-width="7.2">
<path d="M-10,1480 C200,1480 450,1440 600,1330 C700,1260 730,1200 735,1170 L775,1170 L775,1140 L700,1100 L620,1082"/>
<path d="M-10,1450 C180,1450 400,1410 540,1320"/>
<path d="M735,1170 L735,1300 C700,1400 600,1450 590,1470 L590,1535 M400,1540 C500,1520 580,1490 600,1470 M560,1490 L560,1535"/>
<ellipse cx="645" cy="1165" rx="22" ry="9"/><ellipse cx="680" cy="1246" rx="22" ry="9"/><ellipse cx="655" cy="1306" rx="20" ry="9"/>
<ellipse cx="530" cy="1396" rx="18" ry="9"/><ellipse cx="185" cy="1490" rx="24" ry="10"/><ellipse cx="40" cy="1500" rx="24" ry="10"/>
<path d="M600,1075 C640,1085 680,1095 700,1100"/>
</g>
<g stroke-width="6.8">
<path d="M-5,900 L95,960 M-5,935 L100,1000 M-5,1150 L150,1165 M-5,1190 L150,1200 M0,1330 L130,1400 M0,1370 L100,1430"/>
<circle cx="25" cy="870" r="26"/><circle cx="25" cy="870" r="13"/>
<circle cx="90" cy="1085" r="26"/><circle cx="90" cy="1085" r="13"/>
<circle cx="90" cy="1262" r="26"/><circle cx="90" cy="1262" r="13"/>
</g>
<path d="M745,140 L612,288" stroke="#e31b23" stroke-width="7"/>
<polygon points="600,302 636,212 656,246 698,250" fill="#e31b23" stroke="none"/>

</g>
</g>
<text x="1279.5" y="664" text-anchor="middle" font-family="'Liberation Sans','Noto Sans CJK SC',sans-serif" font-weight="400" font-size="18" fill="#1a1a1a" stroke="#1a1a1a" stroke-width="0.55">千分尺</text>
</svg><!--FIG2E-->
<!--FIG3S--><svg style="left:900px;top:1110px;overflow:hidden" width="440" height="366" viewBox="900 1110 440 366">
<g fill="none" stroke="#1b1b1b" stroke-linecap="round" stroke-linejoin="round">
<g transform="translate(900,1110) scale(0.229446)">
<path d="M288,352 L312,212 L345,238 C400,180 450,150 505,135 L495,105 L632,155 L505,218 L512,185 C460,200 420,225 385,262 L415,272 Z" fill="#e31b23" stroke="none"/>
<g stroke-width="7.8">
<path d="M560,365 C600,340 680,330 760,310 M555,370 C560,420 565,450 570,480"/>
<path d="M640,345 C630,400 625,450 640,500 M655,340 C648,400 645,450 655,505 M735,320 C720,380 715,440 720,515 M750,318 C738,380 732,440 738,512 M800,350 C780,400 770,460 775,510 M815,355 C798,400 788,460 792,508 M870,400 C850,430 840,470 845,505 M885,410 C868,440 860,475 862,505 M940,470 C925,490 920,510 920,525"/>
<path d="M690,600 C740,560 800,530 860,520 C920,515 970,530 1010,560 M650,700 C700,620 800,570 900,575 C960,580 1010,600 1050,640 M640,720 C700,650 800,600 900,603 C960,607 1010,625 1050,665"/>
<path d="M870,625 L900,590 L930,600 L935,635 C915,650 885,650 870,640 Z"/>
<circle cx="800" cy="540" r="30"/><circle cx="1040" cy="545" r="32"/><circle cx="903" cy="640" r="5"/>
<path d="M372,755 L372,790 C395,806 450,806 472,790 L472,755 C450,740 395,740 372,755 Z M372,755 C395,772 450,772 472,755 M405,765 L405,802 M448,763 L448,800"/>
<path d="M350,795 C380,825 460,825 495,795 M320,720 C340,700 370,695 380,712 M500,780 C520,760 560,750 590,760"/>
<path d="M295,790 L350,780 M295,790 L297,860 L420,965 L430,985 M297,860 L330,900 L335,1040 M430,830 L430,1300 M445,830 L445,1310 M465,840 L465,1300 M350,860 L420,920 L420,965"/>
<path d="M445,880 C480,895 510,890 530,870 C600,830 700,810 780,830 C840,850 900,900 930,960 M490,820 C560,790 640,775 700,780 C800,790 900,840 950,900 M440,830 C470,835 490,830 495,820 C560,790 640,770 720,775"/>
<path d="M640,860 L660,830 L700,815 L740,830 L745,850 L700,870 L690,895 L645,890 Z M700,815 L700,870 M745,850 L760,870 L730,890"/>
<path d="M335,1040 L340,1280 L440,1310 L930,1420 L930,960 M930,1420 L1050,1440 M445,1310 C600,1400 800,1430 930,1425 M335,1150 L430,1165 M950,900 L950,1400"/>
<path d="M650,760 C670,740 700,740 715,760 M700,730 C720,715 745,720 755,740 M850,760 C870,745 900,750 915,775 M925,800 C945,790 965,795 975,815"/>
<circle cx="715" cy="752" r="20"/><circle cx="715" cy="752" r="10"/><circle cx="880" cy="775" r="24"/><circle cx="880" cy="775" r="12"/><circle cx="960" cy="825" r="24"/><circle cx="960" cy="825" r="12"/><circle cx="660" cy="745" r="14"/>
<path d="M965,860 L965,900 C990,915 1030,915 1050,905 M965,860 C985,840 1020,832 1050,835"/>
</g>
<g stroke-width="7.2"><path d="M894,1127 L861,1125 L857,1151 L889,1158 Z M881,1183 L850,1171 L838,1195 L867,1211 Z M852,1232 L826,1213 L808,1232 L831,1256 Z M810,1272 L791,1246 L768,1260 L783,1288 Z M759,1298 L748,1268 L721,1275 L728,1307 Z M701,1310 L700,1278 L673,1277 L669,1309 Z M643,1305 L651,1274 L625,1266 L613,1295 Z M589,1284 L605,1256 L583,1241 L562,1266 Z M543,1249 L566,1227 L549,1207 L522,1225 Z M509,1203 L538,1188 L527,1164 L496,1174 Z M489,1149 L521,1143 L518,1117 L485,1118 Z M486,1093 L519,1095 L523,1069 L491,1062 Z M499,1037 L530,1049 L542,1025 L513,1009 Z M528,988 L554,1007 L572,988 L549,964 Z M570,948 L589,974 L612,960 L597,932 Z M621,922 L632,952 L659,945 L652,913 Z M679,910 L680,942 L707,943 L711,911 Z M737,915 L729,946 L755,954 L767,925 Z M791,936 L775,964 L797,979 L818,954 Z M837,971 L814,993 L831,1013 L858,995 Z M871,1017 L842,1032 L853,1056 L884,1046 Z M891,1071 L859,1077 L862,1103 L895,1102 Z"/>
<path d="M898,1110 L896,1135 L891,1160 L883,1185 L872,1208 L858,1229 L842,1249 L823,1266 L801,1281 L779,1294 L754,1303 L729,1309 L703,1313 L677,1313 L651,1309 L626,1303 L601,1294 L579,1281 L557,1266 L538,1249 L522,1229 L508,1208 L497,1185 L489,1160 L484,1135 L482,1110 L484,1085 L489,1060 L497,1035 L508,1012 L522,991 L538,971 L557,954 L579,939 L601,926 L626,917 L651,911 L677,907 L703,907 L729,911 L754,917 L779,926 L801,939 L823,954 L842,971 L858,991 L872,1012 L883,1035 L891,1060 L896,1085 L898,1110 Z"/>
<path d="M860,1110 L859,1131 L855,1151 L848,1171 L839,1190 L828,1208 L814,1224 L798,1238 L781,1250 L762,1260 L743,1268 L722,1273 L701,1276 L679,1276 L658,1273 L637,1268 L618,1260 L599,1250 L582,1238 L566,1224 L552,1208 L541,1190 L532,1171 L525,1151 L521,1131 L520,1110 L521,1089 L525,1069 L532,1049 L541,1030 L552,1012 L566,996 L582,982 L599,970 L618,960 L637,952 L658,947 L679,944 L701,944 L722,947 L743,952 L762,960 L781,970 L798,982 L814,996 L828,1012 L839,1030 L848,1049 L855,1069 L859,1089 L860,1110 Z"/>
</g>
<g stroke-width="10.5"><path d="M774,1232 L760,1239 L746,1244 L732,1248 L717,1251 L701,1252 L686,1252 L671,1250 L656,1246 L642,1241 L628,1235 L615,1227 L602,1219 L591,1209 L581,1197 L572,1185 L564,1172 L557,1159 L552,1145 L549,1130 L547,1115 L546,1100 L547,1085 L549,1070 L553,1056 L559,1042 L566,1028 L574,1015 L583,1004 L594,993 L605,983 L618,974 L631,967 L645,961 L660,957 L675,954 L690,952 L705,952 L720,954 L735,957 L750,961"/></g>
<g stroke-width="6.5"><path d="M842,1098 L840,1120 L835,1141 L827,1162 L815,1180 L801,1197 L784,1211 L766,1223 L745,1231 L724,1236 L702,1238 L680,1236 L659,1231 L638,1223 L620,1211 L603,1197 L589,1180 L577,1162 L569,1141 L564,1120 L562,1098 L564,1076 L569,1055 L577,1034 L589,1016 L603,999 L620,985 L638,973 L659,965 L680,960 L702,958 L724,960 L745,965 L766,973 L784,985 L801,999 L815,1016 L827,1034 L835,1055 L840,1076 L842,1098 Z"/><path d="M826,1090 L825,1108 L820,1126 L813,1144 L803,1159 L791,1173 L777,1185 L762,1195 L744,1202 L726,1207 L708,1208 L690,1207 L672,1202 L654,1195 L639,1185 L625,1173 L613,1159 L603,1144 L596,1126 L591,1108 L590,1090 L591,1072 L596,1054 L603,1036 L613,1021 L625,1007 L639,995 L654,985 L672,978 L690,973 L708,972 L726,973 L744,978 L762,985 L777,995 L791,1007 L803,1021 L813,1036 L820,1054 L825,1072 L826,1090 Z"/><path d="M812,1085 L811,1101 L807,1116 L801,1130 L793,1144 L783,1156 L771,1166 L757,1174 L743,1180 L728,1184 L712,1185 L696,1184 L681,1180 L667,1174 L653,1166 L641,1156 L631,1144 L623,1130 L617,1116 L613,1101 L612,1085 L613,1069 L617,1054 L623,1040 L631,1026 L641,1014 L653,1004 L667,996 L681,990 L696,986 L712,985 L728,986 L743,990 L757,996 L771,1004 L783,1014 L793,1026 L801,1040 L807,1054 L811,1069 L812,1085 Z"/></g>
<path d="M700,1010 C730,985 770,985 795,1000 C815,1030 815,1070 800,1100 C770,1075 730,1040 700,1010 Z" fill="#231f20" stroke="none"/>
<g stroke-width="7.8">
<path d="M335,1010 C250,1050 170,1120 150,1200 C150,1300 230,1380 280,1400 L240,1440 L245,1490 L290,1500 L340,1480 L780,1580 L880,1590 L900,1560 L1050,1550"/>
<path d="M240,1440 L290,1455 L340,1440 L780,1530 L880,1540 L905,1500 L1050,1490 M290,1455 L290,1500"/>
<path d="M330,1090 C290,1130 280,1200 300,1250 C400,1350 600,1420 930,1450 M300,1260 C400,1370 650,1440 1050,1460 M310,1100 C320,1085 330,1080 335,1080"/>
<ellipse cx="240" cy="1140" rx="22" ry="12"/><ellipse cx="215" cy="1255" rx="24" ry="12"/><ellipse cx="265" cy="1330" rx="24" ry="12"/><ellipse cx="375" cy="1405" rx="26" ry="12"/><ellipse cx="820" cy="1500" rx="30" ry="12"/><ellipse cx="1030" cy="1490" rx="26" ry="12"/>
<path d="M285,1500 L285,1600 M300,1500 L300,1600 M325,1495 L325,1600 M375,1500 L375,1600 M445,1515 L445,1600 M470,1520 L470,1600 M575,1545 L575,1600 M610,1550 L610,1600 M645,1560 L645,1600 M790,1585 L790,1600 M865,1590 L865,1600"/>
</g>
<g fill="#fff" stroke="none">
<path d="M605,225 C680,240 740,250 780,262 L770,290 C680,300 550,315 455,325 Z"/>
<path d="M720,50 C780,62 830,70 875,81 L1050,190 L1050,600 L1010,590 C990,580 980,560 960,510 C940,470 900,400 880,380 C830,360 790,320 770,290 L780,262 C790,240 800,200 805,185 Z"/>
<path d="M80,515 C200,500 300,440 400,400 C450,380 520,370 560,365 C520,390 500,420 500,440 C510,470 560,490 620,500 C660,520 690,540 690,565 L690,580 C680,610 670,640 640,655 L650,655 C640,670 620,690 590,710 L610,700 C600,715 580,730 560,745 C520,765 470,760 430,730 L360,745 C330,740 300,720 275,690 L115,735 Z"/>
</g>
<g stroke-width="10.5">
<path d="M720,50 C780,62 830,70 875,81"/>
<path d="M605,225 C680,240 740,250 780,262 C790,240 800,200 805,185"/>
<path d="M455,325 C550,315 680,300 770,290 C790,320 830,360 880,380"/>
<path d="M80,515 C200,500 300,440 400,400 C450,380 520,370 560,365"/>
<path d="M115,735 C180,715 230,700 275,690 C250,650 235,620 240,585"/>
<path d="M560,365 C520,390 500,420 500,440 C510,470 560,490 620,500 C660,520 690,540 690,565 C690,590 670,600 650,598"/>
<path d="M490,550 C560,570 620,590 650,598 M470,620 C540,650 600,660 640,655 C670,640 680,610 690,580 M450,680 C500,710 550,720 590,710 C620,690 640,670 650,655 M430,730 C470,760 520,765 560,745 C580,730 600,715 610,700"/>
<path d="M275,690 C300,720 330,740 360,745"/>
</g>
<g stroke-width="4">
<path d="M420,430 L440,440 M430,415 L455,425 M575,540 L580,560 M600,545 L603,565 M630,600 L632,615 M560,680 L570,695 M420,690 L428,710 M235,600 L232,640 M248,590 L246,625"/>
</g>
</g>
<g transform="translate(1100,1110) scale(0.229446)">
<g stroke-width="7.8">
<path d="M160,400 C230,380 300,390 360,420 M185,440 C250,420 310,435 390,470 M215,490 C280,470 350,490 420,520 M225,530 C300,510 380,530 450,560 M250,580 C330,560 420,590 480,610 M270,620 C350,600 440,630 500,650 M300,680 C380,660 460,680 530,700 M320,720 C400,700 480,720 560,745 M370,760 C440,750 520,770 590,800 M385,800 C460,790 540,810 600,840 M410,860 C480,860 560,890 620,920 M420,900 C490,905 560,930 625,965 M425,960 C490,975 570,1010 635,1050 M430,1000 C500,1020 570,1055 635,1095 M430,1060 C490,1090 560,1140 620,1190 M425,1100 C480,1130 550,1180 610,1235 M410,1150 C460,1190 510,1240 560,1300 M395,1185 C440,1225 490,1275 540,1330 M360,1230 C390,1260 420,1300 450,1345 M330,1255 C360,1290 385,1320 410,1355 M290,1280 C310,1310 330,1340 345,1370"/>
<path d="M200,460 C270,445 330,460 405,495 M240,555 C310,535 400,560 465,585 M285,650 C360,630 450,655 515,675 M345,740 C420,725 500,745 575,772 M398,830 C470,825 550,850 610,880 M422,930 C490,940 565,970 630,1008 M428,1030 C495,1055 565,1098 628,1143 M418,1125 C470,1160 530,1210 585,1268"/>
<path d="M440,500 C540,640 620,800 640,1000 C645,1120 625,1220 590,1290 C570,1320 550,1335 540,1340 M560,690 C610,800 630,950 628,1100"/>
<circle cx="110" cy="575" r="30"/><circle cx="290" cy="700" r="36"/><circle cx="395" cy="890" r="36"/><circle cx="385" cy="1085" r="36"/><circle cx="285" cy="1235" r="36"/>
<path d="M0,600 C100,620 200,720 260,850 C310,960 310,1100 250,1220 M60,640 C150,680 230,800 260,900 C290,1000 280,1120 230,1200 M215,640 C300,740 360,860 370,1000 C370,1120 330,1220 250,1290"/>
<path d="M300,960 C310,940 340,940 350,960 L355,1000 C340,1020 310,1020 300,1000 Z"/><ellipse cx="312" cy="985" rx="5" ry="12"/>
<circle cx="30" cy="790" r="22"/><circle cx="30" cy="790" r="10"/><circle cx="75" cy="835" r="26"/><circle cx="75" cy="835" r="12"/>
<path d="M85,855 L85,895 C110,915 185,915 210,895 L210,855 C185,832 110,832 85,855 Z M85,855 C110,880 185,880 210,855 M130,872 L130,910 M185,868 L185,906"/>
<path d="M60,920 L240,920 L260,945 L260,1040 L215,1080 L215,1420 M60,920 L60,1420 M100,940 L100,1060 L145,1100 L145,1430 M160,1100 L160,1430 M215,1080 L145,1100 M60,1170 L215,1160 M45,930 L45,1410 M0,1290 L45,1300 M0,1330 L45,1340"/>
<path d="M240,1300 C280,1290 330,1260 360,1230 M235,1340 L250,1380 M250,1290 L270,1360"/>
</g>
<g fill="#fff" stroke="none">
<path d="M0,80 C80,120 180,200 260,280 C340,360 420,450 440,500 C380,440 300,390 240,372 L175,385 L145,345 L25,345 L0,300 Z"/>
<path d="M145,345 C170,420 200,500 215,560 C210,590 170,605 140,590 C120,570 110,540 105,520 C80,470 40,420 8,380 L0,300 L25,345 Z"/>
</g>
<g stroke-width="10.5">
<path d="M0,80 C80,120 180,200 260,280 C340,360 420,450 440,500"/>
<path d="M145,345 C170,420 200,500 215,560 C210,590 170,605 140,590 C120,570 110,540 105,520"/>
<path d="M105,520 C80,470 40,420 8,380"/>
</g>
<g stroke-width="7.8"><ellipse cx="172" cy="547" rx="27" ry="33" transform="rotate(15 172 547)"/>
<path d="M175,385 L240,372 C300,390 380,440 440,500"/>
</g>
<g stroke-width="10"><circle cx="548" cy="525" r="85"/></g>
<g stroke-width="7.2">
<circle cx="548" cy="525" r="70"/><circle cx="548" cy="525" r="56" stroke-dasharray="5 12" stroke-width="10.5"/>
<rect x="572" y="378" width="28" height="55"/><path d="M572,395 L600,395"/>
<path d="M535,610 L535,665 L545,700 L548,750 L553,700 L563,665 L563,610 M535,640 L563,640"/>
<path d="M520,505 L578,548" stroke-width="8"/>
<path d="M615,620 C640,600 660,560 680,500 L700,460 L720,470 M640,640 L705,525 M590,640 C600,655 615,660 625,650 L640,640"/>
<rect x="715" y="470" width="76" height="78"/><rect x="750" y="435" width="30" height="36"/><path d="M735,470 L735,548 M775,470 L775,548"/>
<path d="M790,490 L820,490 M790,520 L820,520"/>
<path d="M722,548 L690,940 M775,548 L745,945"/>
<path d="M635,1030 L820,1000 L830,1170 L640,1200 Z M635,1030 L650,940 L770,945 L820,1000 M835,1005 L860,1000 L862,1030 L840,1035 M660,1200 L665,1215 L690,1212"/>
</g>
<circle cx="548" cy="520" r="9" fill="#1b1b1b" stroke="none"/>
<path d="M818,462 L880,455 L885,600 L822,612 Z" stroke-width="7.2"/>
<path d="M862,458 L882,456 L886,598 L866,604 Z" fill="#2a2a2a" stroke="none"/>
<g stroke-width="7.8">
<path d="M0,1440 C200,1440 450,1400 620,1290 M0,1475 C250,1470 500,1420 660,1300 C710,1260 740,1220 745,1200"/>
<path d="M745,1200 C750,1280 700,1360 600,1430 C450,1520 200,1570 40,1585 L30,1600 M40,1530 C200,1520 450,1470 600,1390 M40,1530 L35,1590"/>
<ellipse cx="535" cy="1375" rx="30" ry="14"/><ellipse cx="335" cy="1458" rx="30" ry="13"/><ellipse cx="165" cy="1490" rx="28" ry="12"/>
<path d="M300,1600 C400,1560 480,1520 520,1480 M420,1600 C480,1560 540,1500 580,1440 M350,1580 L460,1500 M460,1560 L520,1500 M60,1560 L60,1600"/>
</g>
</g>
</g></svg><!--FIG3E-->
<!--FIG4S--><svg style="left:910px;top:1600px;overflow:hidden" width="386" height="283.5" viewBox="910 1600 386 283.5">
<g fill="none" stroke="#1b1b1b" stroke-linecap="round" stroke-linejoin="round">
<g transform="translate(910,1600) scale(0.186012)">
<path d="M880,215 C960,190 1050,180 1140,180 L1140,470 C1050,465 980,475 900,490 L830,480 C830,400 850,300 880,215 Z" fill="#ee1c24" stroke="none"/>
<g stroke-width="9.5">
<path d="M1140,180 C1050,180 960,190 880,215 C800,235 700,270 600,315 C500,380 440,430 390,480 C350,540 330,580 320,600 C290,660 275,700 265,730 C245,790 238,820 235,850 C228,900 228,940 230,980 C235,1040 240,1070 250,1100 C260,1150 270,1180 285,1200 C290,1240 295,1255 300,1270 C310,1300 325,1320 340,1330"/>
<path d="M940,200 C920,300 900,400 895,485 M1010,190 C980,290 950,390 940,480 M1080,185 C1050,280 1010,380 1000,470 M965,197 C945,297 925,397 918,482 M1040,188 C1010,288 978,388 968,476"/>
<path d="M840,215 C820,300 790,400 780,480 M870,212 C845,300 825,400 822,478"/>
<path d="M735,245 C720,340 710,430 725,530 M700,260 C690,350 680,440 690,545 M600,310 C600,400 610,500 640,600 M585,320 C585,410 595,510 622,605 M490,385 C500,470 530,570 570,660 M475,395 C485,480 515,580 555,670 M395,475 C420,560 460,650 510,740 M385,490 C410,570 450,660 500,750 M320,600 C360,660 420,730 480,790 M310,615 C350,680 410,745 470,805 M270,725 C320,770 380,820 450,860 M262,745 C310,790 370,838 440,878 M240,850 C290,880 340,910 400,930 M236,870 C285,900 335,930 398,950 M230,980 C280,1000 340,1030 420,1060 M232,1000 C280,1022 340,1050 420,1080 M250,1100 C300,1120 360,1140 430,1150 M285,1200 C330,1215 380,1230 430,1240 M300,1270 C340,1290 390,1300 430,1310"/>
</g>
<g stroke-width="8.6">
<path d="M810,225 C795,320 780,400 790,470 M645,290 C640,380 650,480 670,560 M540,350 C545,440 565,530 600,625"/>
<circle cx="945" cy="520" r="50"/><path d="M705,577 L747,601 L747,649 L705,673 L663,649 L663,601 Z"/><circle cx="705" cy="625" r="38"/>
<path d="M540,780 C620,660 780,580 1000,570 L1140,565 M560,800 C640,690 790,610 1000,600 L1080,598 M640,850 C720,740 860,670 1000,660 L1140,655 M690,870 C760,770 880,700 1000,690 L1140,688"/>
<path d="M1030,600 L1070,560 L1140,565 M1030,600 L1040,640 L1140,650"/><ellipse cx="1085" cy="635" rx="14" ry="6"/>
<path d="M470,830 L470,870 C500,900 590,900 620,870 L620,830 C590,795 500,795 470,830 Z M470,830 C500,855 590,855 620,830 M525,848 L525,892 M590,842 L590,885"/>
<path d="M455,880 C490,925 600,925 635,885"/>
<path d="M365,905 L440,885 M365,905 L370,985 L420,1030 L540,1150 L580,1150 M620,920 L580,930 L500,960 L520,1100 L580,1150 M420,1030 C440,1060 445,1100 445,1150 L445,1525 M470,1100 L470,1525 M490,1110 L490,1525 M580,930 L580,1525 M600,930 L600,1525 M625,925 L625,1525 M370,985 L500,960"/>
<path d="M600,1010 L680,1000 L700,1030 C760,950 860,900 1000,890 L1140,888 M620,920 C700,900 760,870 800,860 C880,840 1000,835 1140,838 M600,1040 L690,1040 M445,1250 L580,1250 M445,1275 L580,1275"/>
<circle cx="800" cy="830" r="30"/><circle cx="800" cy="830" r="15"/><circle cx="900" cy="790" r="38"/><circle cx="900" cy="790" r="20"/><circle cx="1130" cy="790" r="35"/>
<path d="M930,920 L950,880 L1000,870 L1040,885 L1040,920 L1010,940 L1000,990 L940,990 L935,950 Z M960,900 L990,895 L985,985 M910,940 L930,985 M1040,930 L1025,975"/>
</g>
<g stroke-width="8.6"><path d="M871,1531 L896,1482 L844,1452 L807,1495 Z M765,1459 L809,1422 L774,1376 L721,1403 Z M698,1354 L755,1336 L741,1281 L682,1287 Z M681,1228 L741,1233 L753,1178 L696,1161 Z M719,1112 L772,1138 L806,1091 L761,1055 Z M802,1018 L840,1061 L892,1030 L865,981 Z M919,962 L936,1015 L996,1005 L993,950 Z M1050,952 L1043,1007 L1102,1020 L1123,968 Z M1175,991 L1145,1038 L1194,1072 L1235,1032 Z M1274,1071 L1226,1105 L1257,1153 L1311,1131 Z M1330,1181 L1272,1195 L1280,1251 L1340,1250 Z M1336,1303 L1277,1294 L1260,1349 L1316,1369 Z"/>
<path d="M952,1560 L925,1555 L898,1547 L872,1538 L848,1526 L824,1513 L801,1498 L780,1481 L761,1462 L743,1443 L727,1422 L714,1399 L702,1376 L692,1352 L684,1327 L679,1302 L676,1277 L675,1251 L677,1225 L680,1200 L686,1175 L695,1150 L705,1126 L718,1104 L732,1082 L749,1061 L767,1042 L787,1024 L808,1007 L831,993 L855,980 L880,969 L906,960 L933,953 L960,948 L988,946 L1016,945 L1044,947 L1071,950 L1098,956 L1125,964 L1150,973 L1175,985 L1199,999 L1221,1014 L1242,1031 L1261,1050 L1278,1070 L1294,1091 L1308,1113 L1319,1136 L1329,1160 L1336,1185 L1342,1211 L1344,1236 L1345,1262 L1343,1287 L1339,1313 L1333,1338 L1324,1362 L1314,1386"/>
<path d="M963,1503 L941,1499 L919,1493 L898,1485 L878,1475 L859,1465 L841,1452 L824,1439 L808,1424 L793,1408 L781,1390 L769,1372 L760,1353 L752,1334 L746,1314 L741,1293 L739,1273 L738,1252 L739,1231 L742,1210 L747,1190 L754,1170 L762,1150 L773,1132 L785,1114 L798,1097 L813,1082 L829,1067 L846,1054 L865,1042 L884,1031 L905,1023 L926,1015 L948,1010 L970,1006 L992,1004 L1015,1003 L1037,1004 L1060,1007 L1082,1012 L1103,1018 L1124,1026 L1144,1036 L1163,1047 L1181,1059 L1198,1073 L1214,1088 L1228,1104 L1241,1121 L1252,1140 L1261,1159 L1269,1178 L1275,1198 L1279,1219 L1281,1240 L1282,1260 L1281,1281 L1277,1302 L1272,1322 L1265,1342 L1257,1361"/>
</g>
<g stroke-width="10"><path d="M988,1491 L967,1489 L946,1484 L926,1479 L906,1471 L887,1462 L869,1452 L852,1440 L836,1427 L822,1413 L808,1397 L797,1381 L786,1364 L778,1345 L771,1327 L765,1308 L762,1288 L760,1269 L760,1249 L762,1229 L766,1210 L771,1191 L779,1172 L787,1154 L798,1137 L810,1121 L823,1106 L838,1091 L854,1078 L872,1067 L890,1057 L909,1048 L929,1041 L949,1035 L970,1031 L991,1029 L1012,1028 L1033,1029 L1054,1032 L1075,1036 L1096,1042"/></g>
<g stroke-width="7.5"><path d="M990,1479 L970,1477 L951,1473 L932,1468 L914,1461 L896,1452 L879,1443 L864,1432 L849,1420 L835,1406 L823,1392 L812,1377 L802,1361 L794,1344 L788,1327 L783,1309 L780,1291 L778,1273 L778,1255 L780,1236 L783,1218 L789,1201 L795,1184 L804,1167 L813,1151 L824,1136 L837,1122 L851,1109 L866,1097 L882,1086 L898,1077 L916,1068 L934,1062 L953,1057 L973,1053 L992,1051 L1012,1050 L1032,1051 L1051,1053 L1071,1057 L1089,1063"/><path d="M998,1454 L980,1452 L963,1449 L947,1444 L930,1437 L915,1430 L900,1421 L886,1411 L874,1399 L862,1387 L851,1374 L842,1360 L834,1345 L827,1330 L822,1314 L818,1298 L816,1282 L815,1265 L816,1248 L818,1232 L822,1216 L827,1200 L834,1185 L842,1170 L851,1156 L862,1143 L874,1131 L886,1119 L900,1109 L915,1100 L930,1093 L947,1086 L963,1081 L980,1078 L998,1076 L1015,1075 L1032,1076 L1050,1078 L1067,1081 L1083,1086 L1100,1093"/><path d="M1005,1434 L990,1432 L975,1429 L960,1425 L946,1419 L932,1412 L920,1404 L907,1395 L896,1385 L886,1374 L877,1362 L869,1349 L862,1336 L857,1322 L853,1308 L850,1293 L848,1279 L848,1264 L849,1249 L852,1235 L856,1220 L861,1207 L868,1193 L876,1180 L884,1168 L894,1157 L905,1147 L917,1138 L930,1129 L944,1122 L958,1116 L972,1111 L987,1108 L1002,1106 L1018,1105 L1033,1105 L1048,1107 L1063,1110 L1078,1115 L1092,1120 L1106,1127"/></g>
<path d="M920,1140 C980,1115 1060,1115 1140,1140 L1140,1262 C1060,1270 980,1250 940,1210 Z" fill="#231f20" stroke="none"/>
<g stroke-width="8.6">
<path d="M280,1160 C180,1200 100,1290 95,1400 C95,1450 110,1500 130,1525"/><ellipse cx="190" cy="1400" rx="35" ry="15"/>
<path d="M300,1270 C280,1300 260,1340 250,1370 L290,1380 C320,1340 340,1310 350,1290 M290,1380 C320,1400 380,1420 430,1425 M330,1330 C340,1380 350,1430 360,1470 L430,1480 M290,1390 C300,1440 320,1480 350,1510 L430,1525 M350,1360 L430,1375 M400,1525 C410,1505 425,1500 440,1500"/>
</g>
</g>
<g transform="translate(1100,1600) scale(0.186012)">
<path d="M-5,175 L85,160 L130,190 L330,170 L270,460 L-5,482 Z" fill="#ee1c24" stroke="none"/>
<path d="M105,95 C130,140 200,165 335,168 L300,335 C220,300 150,310 60,330 L130,190 L80,160 C95,140 100,120 105,95 Z" fill="#1f1a1b" stroke="none"/>
<g stroke="#1f1a1b" stroke-width="5"><path d="M40,352 L292,338 M20,382 L282,362 M10,412 L276,396 M5,442 L270,430 M60,366 L200,352 M30,426 L180,412 M0,462 L268,450 M100,398 L260,380"/></g>
<g stroke="#ee1c24" stroke-width="5"><path d="M150,250 L305,240 M140,290 L298,280 M170,215 L312,205 M135,312 L240,302 M120,150 C140,160 160,165 180,168 M200,270 L300,262"/></g>
<g stroke-width="8.6">
<path d="M0,175 L80,165 M60,330 L0,470 M0,205 C-10,290 -40,390 -50,470"/>
<path d="M335,168 L600,150 L640,200 L665,230 L700,235 L860,235 M335,168 L275,420 L300,470 L500,470 L520,440 M355,175 L290,420 L300,445 M500,160 L440,420 L455,470 M540,158 L480,420 L500,470 M275,420 L480,420"/>
<path d="M520,440 C560,380 620,320 700,295 L850,295"/>
<path d="M800,200 C810,150 860,130 920,125 C960,110 1010,90 1045,75 M800,200 C820,230 860,240 880,230 M975,110 C985,150 985,180 980,200 L1045,200"/>
<path d="M860,235 C850,260 855,300 870,330 C890,350 910,340 920,320 C930,290 935,260 940,235 C920,220 880,220 860,235 Z"/>
<path d="M940,235 C980,240 1010,250 1045,260 M920,320 C950,350 960,380 975,400 M950,290 C960,270 975,265 985,270"/>
<path d="M690,420 C700,380 760,350 830,355 C860,360 870,390 860,420 C820,460 750,480 710,470 C695,460 688,440 690,420 Z"/>
<path d="M680,560 C690,520 760,490 850,490 C880,500 885,540 870,570 C820,600 740,615 700,605 C685,595 678,580 680,560 Z"/>
<path d="M790,680 C800,640 860,610 940,600 L1045,570 M790,680 C795,710 820,720 850,715 L1045,710"/>
<path d="M870,360 C920,400 970,430 1045,470 M880,430 L960,440 C1000,450 1030,470 1045,480 M880,500 C900,480 920,450 880,430 M620,400 C650,420 670,440 690,470"/>
<path d="M940,600 C945,640 950,680 950,700" stroke="#8a1a1a"/>
</g>
<g stroke-width="8.6">
<path d="M350,500 C420,470 500,450 600,430 M380,540 C450,500 540,480 640,460 M420,580 C500,540 600,520 690,500 M440,610 C520,580 600,560 680,545 M500,660 C580,630 680,610 780,610 M520,690 C600,660 690,650 790,650 M560,740 C640,720 760,710 860,730 M580,770 C660,750 770,750 875,770 M620,830 C700,820 800,830 900,860 M630,860 C710,855 810,870 905,900 M650,930 C730,930 830,950 915,990 M660,960 C740,965 830,985 920,1030 M670,1030 C740,1040 840,1080 925,1130 M675,1065 C750,1080 840,1120 920,1170 M680,1130 C740,1160 820,1210 900,1270 M670,1160 C730,1195 810,1250 885,1310 M650,1230 C700,1270 760,1330 830,1400 M640,1260 C690,1305 750,1370 810,1440"/>
<path d="M400,560 C475,520 570,500 665,480 M470,635 C550,600 640,585 735,578 M540,715 C620,690 730,680 830,690 M600,800 C680,785 785,790 888,815 M640,895 C720,892 820,910 910,945 M665,995 C740,1002 835,1032 922,1080 M678,1097 C745,1120 830,1165 912,1220 M660,1195 C715,1232 785,1290 858,1355"/>
<path d="M600,1320 C640,1370 680,1430 710,1500 M560,1370 C590,1410 620,1460 640,1505 M540,1400 C560,1440 580,1480 590,1505 M750,1420 C770,1450 790,1480 800,1505 M620,1340 C660,1390 700,1450 730,1505 M690,1330 C730,1380 770,1440 790,1480"/>
<path d="M870,740 C900,800 925,900 930,1050 C930,1150 915,1250 890,1300 L915,1280 L900,1320 C890,1360 870,1400 860,1440 M870,1340 C890,1360 890,1400 870,1440 C840,1470 800,1490 770,1500"/>
<circle cx="210" cy="540" r="55"/><circle cx="445" cy="675" r="55"/><circle cx="580" cy="910" r="55"/><circle cx="575" cy="1165" r="52"/>
<path d="M0,565 C150,560 300,600 420,700 C520,790 600,900 640,1000 C660,1080 650,1180 600,1280 C570,1340 540,1380 520,1400 M130,610 C260,640 380,720 470,850 C500,900 520,940 530,960 M110,640 C240,670 350,740 440,860 C470,900 490,940 500,960 M270,520 C400,560 520,660 600,780 C650,860 680,950 680,1050 C680,1150 650,1250 600,1330"/>
<path d="M0,560 L40,560 L100,575 L110,620 L95,650 L0,650"/><ellipse cx="60" cy="635" rx="14" ry="6"/>
<circle cx="125" cy="790" r="40"/><circle cx="125" cy="790" r="25"/><circle cx="125" cy="790" r="12"/><circle cx="235" cy="845" r="40"/><circle cx="235" cy="845" r="25"/><circle cx="235" cy="845" r="12"/>
<path d="M330,885 L330,930 C360,955 440,955 470,930 L470,885 C440,855 360,855 330,885 Z M330,885 C360,910 440,910 470,885 M385,902 L385,948"/>
<path d="M310,940 C350,985 450,985 495,945"/>
<path d="M310,960 L310,1505 M325,965 L325,1505 M345,1000 L345,1200 M370,1010 L570,975 L575,1090 L385,1130 L370,1010 M385,1130 L340,1200 L420,1190 L440,1130 M420,1190 L430,1505 M445,1150 L445,1505 M500,1110 L500,1505 M520,1105 L520,1505 M290,1300 L500,1300 M290,1330 L430,1330"/>
<path d="M0,840 C60,850 120,880 160,920 L170,1060 L210,1080 L290,1090 M0,900 C50,910 100,935 150,980 M0,960 C40,965 80,990 110,1020 M210,1080 L225,1040 L300,960 M160,920 L300,940"/>
<path d="M100,1040 C200,1120 250,1250 220,1380 C200,1450 160,1490 130,1505 M60,1090 C140,1150 180,1260 160,1370 C140,1440 100,1480 70,1505 M0,1130 C80,1150 130,1250 110,1350 C100,1400 60,1450 0,1470"/>
<path d="M80,1075 L140,1085 L150,1150 L95,1140 Z M160,1150 L215,1165 L220,1230 L170,1215 Z M195,1260 L245,1270 L240,1335 L195,1325 Z M175,1370 L225,1380 L205,1440 L165,1425 Z M120,1450 L165,1470 L140,1505 L105,1495 Z"/>
<path d="M900,1210 C980,1260 1040,1350 1045,1450 L1040,1505 M850,1490 C870,1480 890,1480 910,1490"/>
</g>
<path d="M-5,1140 C40,1150 80,1180 100,1230 C60,1260 30,1270 -5,1265 Z" fill="#231f20" stroke="none"/>
</g>
</g></svg><!--FIG4E-->
<!--FIG5S--><svg style="left:2190px;top:340px" width="580" height="330" viewBox="2190 340 580 330">
<g transform="translate(2300,340) scale(0.209059)" fill="none" stroke="#1c1a1a" stroke-linecap="round" stroke-linejoin="round">
<g fill="#231f20" stroke="none">
<path d="M475,64 L1166,62 C1166,105 1130,160 1062,176 C900,196 700,206 600,206 C540,200 480,150 475,64 Z"/>
<path d="M632,440 C632,400 660,380 700,376 C900,360 1200,335 1400,308 C1440,305 1465,330 1460,370 C1455,420 1420,470 1330,490 C1100,530 900,550 800,555 C720,550 640,510 632,440 Z"/>
<path d="M978,830 C975,780 1020,750 1100,735 C1300,710 1550,650 1740,600 C1790,595 1820,625 1818,670 C1815,720 1780,760 1700,790 C1500,850 1250,910 1120,930 C1050,930 985,890 978,830 Z"/>
<path d="M1405,1180 C1400,1130 1440,1100 1520,1070 C1700,1010 1950,920 2172,830 L2175,1012 C2000,1080 1750,1180 1560,1245 C1480,1260 1410,1230 1405,1180 Z"/>
<path d="M1830,1502 C1840,1460 1870,1430 1920,1400 C2000,1360 2100,1310 2172,1272 L2175,1502 Z"/>
</g>
<g stroke-width="10">
<path d="M80,290 L135,265 C450,280 900,255 1280,212 L1395,203 L1430,228 L1495,295 C1530,370 1570,450 1600,505"/>
<path d="M1260,65 C1275,110 1288,160 1305,195 L1345,207"/>
<path d="M300,765 L478,705 C750,685 1050,635 1300,590 C1450,555 1600,515 1725,484 L1775,502 L1845,548 C1880,600 1905,650 1925,700 C1945,745 1970,765 2005,772"/>
<path d="M2005,772 C2060,740 2100,715 2165,720"/>
<path d="M675,1190 L880,1105 C1100,1060 1400,990 1650,910 C1800,860 1900,820 2005,772"/>
<path d="M1305,1505 C1500,1430 1800,1310 2165,1155"/>
<path d="M88,610 C200,850 450,1250 805,1510"/>
<path d="M1625,65 C1750,250 1950,450 2155,575"/>
</g>
<g stroke-width="6.5">
<path d="M80,290 C110,330 140,370 160,395 C180,500 230,650 300,765"/>
<path d="M440,760 C470,800 490,810 495,830 C520,950 590,1100 675,1190"/>
<path d="M850,1160 C880,1200 920,1230 940,1270 C960,1350 1000,1450 1060,1510"/>
</g>
<g stroke-width="4.6">
<path d="M215,335 C600,345 1000,330 1400,290"/>
<path d="M280,648 C700,640 1200,570 1590,487"/>
<path d="M545,758 C900,730 1400,640 1755,560"/>
<path d="M625,1072 C1000,1030 1500,900 1930,760"/>
<path d="M1040,1165 C1400,1090 1800,960 2160,810"/>
<path d="M1075,1468 C1400,1390 1800,1240 2165,1085"/>
<path d="M1520,1500 C1700,1440 1950,1330 2170,1232"/>
<path d="M135,265 L175,285 L210,330 M155,380 L200,345 L215,335"/>
<path d="M478,705 L510,720 L550,750 M440,745 L495,812 L540,770 M340,765 L410,762"/>
<path d="M880,1105 L930,1120 L990,1165 M850,1160 L930,1238 L985,1180 M715,1192 L820,1175"/>
<path d="M1395,203 L1420,250 L1490,290 M1725,484 L1760,520 L1840,548"/>
<path d="M1405,1495 L1430,1510 M1455,1475 L1500,1505"/>
</g>
<path d="M408,1370 L975,908" stroke="#e31b23" stroke-width="6"/>
<polygon points="1015,872 905,913 952,928 965,968" fill="#e31b23" stroke="none"/>
</g>
<text x="2383" y="646.5" text-anchor="end" font-family="'Liberation Sans','Noto Sans CJK SC',sans-serif" font-weight="400" font-size="19" fill="#1a1a1a" stroke="#1a1a1a" stroke-width="0.55">驱动面接触印迹(凸面)</text>
</svg><!--FIG5E-->
<!--TBL1S--><svg style="left:1700px;top:960px" width="280" height="180" viewBox="1700 960 280 180">
<g transform="translate(1700,960) scale(0.121951)" fill="none" stroke="#262626" stroke-width="16" stroke-linecap="round" stroke-linejoin="round">
<path d="M195,255 L270,300 C290,330 300,360 340,375 L500,372"/>
<path d="M270,298 C700,288 1200,318 1650,380 C1680,385 1675,330 1655,270"/>
<path d="M500,372 C490,450 480,540 540,590 C560,605 600,610 620,620"/>
<path d="M500,372 C900,370 1400,420 1740,490 C1770,470 1790,430 1815,410 C1840,420 1880,520 1900,600 C1925,700 1925,760 1905,800"/>
<path d="M560,600 C900,620 1500,720 1905,800"/>
<path d="M580,625 C600,660 640,685 720,690 C1100,730 1600,820 1960,905 C1990,890 2000,850 2015,830 C2040,880 2050,950 2050,1050 C2050,1120 2045,1180 2035,1205"/>
<path d="M725,700 C730,780 740,860 780,900 C800,930 830,960 880,965"/>
<path d="M790,900 C1100,950 1600,1080 2035,1205"/>
<path d="M880,965 C1200,1020 1700,1180 2010,1285 L2030,1210"/>
<path d="M885,1000 L880,1075"/>
<path d="M1860,270 C1950,450 2050,700 2080,900 C2100,1050 2100,1150 2095,1235"/>
<g stroke-width="7"><path d="M1680,385 L1730,470 M1770,495 L1840,510 M1905,800 L1930,880"/></g>
<g fill="#8d8c8c" stroke="#2b2b2b" stroke-width="10">
<path d="M735,500 C735,440 800,420 870,422 C1050,430 1250,460 1380,490 C1440,505 1465,545 1450,590 C1435,630 1380,640 1320,635 C1150,620 950,590 830,560 C770,545 735,530 735,500 Z"/>
<path d="M955,830 C955,780 1010,765 1080,770 C1250,790 1450,840 1570,880 C1620,900 1645,930 1630,960 C1610,990 1560,1000 1500,990 C1350,960 1150,910 1040,880 C990,865 955,855 955,830 Z"/>
</g>
</g>
</svg><!--TBL1E-->
<!--TBL2S--><svg style="left:1700px;top:1150px" width="280" height="180" viewBox="1700 1150 280 180">
<g transform="translate(1700,1150) scale(0.121951)" fill="none" stroke="#262626" stroke-width="16" stroke-linecap="round" stroke-linejoin="round">
<path d="M215,222 C230,270 260,310 320,330 L480,335"/>
<path d="M250,250 C700,235 1200,270 1645,340 L1650,220"/>
<path d="M475,340 C475,430 480,520 500,560 C520,600 560,640 620,665"/>
<path d="M480,340 C900,340 1400,390 1700,440 C1740,440 1780,390 1810,360 C1850,400 1890,520 1905,640 C1915,720 1920,760 1900,800"/>
<path d="M510,585 C900,600 1500,710 1900,800"/>
<path d="M620,665 L740,690 C1100,720 1600,810 1940,915 C1970,900 1985,850 2000,825 C2030,880 2050,1000 2055,1100 C2058,1180 2055,1230 2050,1255"/>
<path d="M730,700 C725,780 730,860 745,900 C760,940 780,980 810,995 L880,1010"/>
<path d="M760,905 C1100,950 1600,1100 2000,1250"/>
<path d="M880,1010 C1200,1050 1500,1150 1750,1245"/>
<path d="M880,1015 L878,1105"/>
<path d="M1860,225 C1950,400 2050,650 2085,900 C2100,1050 2100,1150 2095,1250"/>
<g stroke-width="7"><path d="M1650,345 L1700,440 M1770,465 L1840,478 M1985,925 L2010,930"/></g>
<g fill="#838282" stroke="#2b2b2b" stroke-width="10">
<path d="M495,440 C500,400 560,385 660,385 C780,385 870,410 875,465 C870,520 780,550 680,550 C600,550 520,540 500,520 Z"/>
<path d="M735,760 C740,730 800,730 880,738 C990,750 1075,790 1075,840 C1070,890 980,905 900,900 C820,890 760,870 740,860 Z"/>
</g>
</g>
</svg><!--TBL2E-->
<!--TBL3S--><svg style="left:1700px;top:1350px" width="280" height="180" viewBox="1700 1350 280 180">
<g transform="translate(1700,1350) scale(0.121951)" fill="none" stroke="#262626" stroke-width="16" stroke-linecap="round" stroke-linejoin="round">
<path d="M210,220 C215,290 240,350 300,400 C340,430 400,430 520,420"/>
<path d="M310,345 C700,300 1200,290 1660,345 C1690,345 1685,270 1665,205"/>
<path d="M525,425 C525,500 535,600 560,650 C580,700 630,740 700,750 L780,762"/>
<path d="M520,420 C900,395 1400,410 1730,465 C1770,460 1800,400 1835,355 C1880,400 1930,500 1945,600 C1960,700 1965,760 1950,805"/>
<path d="M620,680 C1000,690 1500,740 1950,805"/>
<path d="M780,762 C1100,770 1600,830 1975,910 C2010,900 2030,860 2055,835 C2080,890 2095,1000 2095,1100 C2095,1180 2085,1220 2075,1250"/>
<path d="M780,770 C785,850 795,940 820,985 C850,1010 850,1060 890,1090 L960,1100"/>
<path d="M880,1000 C1200,1030 1700,1150 2075,1250"/>
<path d="M960,1100 C1300,1130 1700,1220 1920,1290"/>
<path d="M955,1100 L958,1185"/>
<path d="M1865,205 C1980,400 2080,650 2115,900 C2135,1050 2135,1150 2125,1215"/>
<g stroke-width="7"><path d="M1690,375 L1730,440 M1800,462 L1870,470 M1960,850 L1985,905 M2020,920 L2060,925"/></g>
<g fill="#918f8f" stroke="#3a3a3a" stroke-width="9">
<path d="M900,560 C895,510 930,480 1000,478 C1200,478 1400,495 1520,515 C1580,525 1610,560 1600,610 C1590,660 1550,680 1490,675 C1300,660 1100,630 980,610 C930,600 905,585 900,560 Z"/>
<path d="M1120,900 C1115,860 1150,845 1210,848 C1400,870 1600,910 1720,950 C1780,970 1805,1000 1795,1040 C1780,1080 1740,1095 1690,1085 C1500,1045 1300,990 1190,960 C1140,945 1122,925 1120,900 Z"/>
</g>
</g>
</svg><!--TBL3E-->
<!--TBL4S--><svg style="left:1700px;top:1550px" width="280" height="170" viewBox="1700 1550 280 170">
<g transform="translate(1700,1550) scale(0.121951)" fill="none" stroke="#262626" stroke-width="16" stroke-linecap="round" stroke-linejoin="round">
<path d="M1570,278 C1100,225 600,240 260,290 C240,300 240,325 250,335 C270,360 320,360 440,350"/>
<path d="M440,350 C800,320 1300,330 1620,380 C1660,385 1690,340 1720,295 C1745,270 1770,300 1800,350 C1840,450 1870,560 1880,650 C1885,690 1880,705 1870,715"/>
<path d="M445,355 C455,430 470,520 500,570 C530,620 580,660 650,665 L710,668"/>
<path d="M520,590 C900,580 1400,630 1870,715"/>
<path d="M710,668 C1100,670 1600,740 1890,800 C1930,800 1950,750 1975,720 C2000,740 2020,850 2035,950 C2050,1050 2055,1100 2050,1130"/>
<path d="M705,675 C715,760 730,830 760,880 C790,930 810,970 860,980 L910,985"/>
<path d="M800,885 C1200,910 1700,1020 2050,1130"/>
<path d="M910,985 C1300,1020 1750,1130 2040,1225 L2045,1140"/>
<path d="M900,985 L900,1055"/>
<path d="M1790,155 C1900,330 2010,600 2060,800 C2100,950 2115,1080 2110,1170"/>
<g stroke-width="7"><path d="M1580,165 L1600,290 L1640,350 M1700,385 L1800,395 M1870,715 L1890,770"/></g>
<g fill="#8a8989" stroke="#3a3a3a" stroke-width="8">
<path d="M590,550 C650,480 780,440 900,445 C1050,455 1200,520 1285,585 C1100,570 800,555 590,550 Z"/>
<path d="M825,850 C880,800 980,770 1080,778 C1230,800 1400,880 1470,945 C1300,920 1000,880 825,850 Z"/>
</g>
</g>
</svg><!--TBL4E-->
<!--TBL5S--><svg style="left:1700px;top:1730px" width="280" height="180" viewBox="1700 1730 280 180">
<g transform="translate(1700,1730) scale(0.121951)" fill="none" stroke="#262626" stroke-width="16" stroke-linecap="round" stroke-linejoin="round">
<path d="M205,270 C230,330 280,380 330,420 C360,440 420,435 510,425"/>
<path d="M320,345 C700,270 1200,240 1590,270" stroke-width="10"/>
<path d="M510,425 C900,370 1400,360 1690,395 C1730,395 1750,320 1775,265 C1830,330 1890,450 1915,560 C1940,680 1950,790 1945,870"/>
<path d="M510,430 C520,520 530,620 560,670 C590,700 600,760 660,785 L790,795"/>
<path d="M600,700 C1000,690 1500,720 1810,775" stroke-width="9"/>
<path d="M790,795 C1200,790 1700,850 1950,900 C1990,900 2010,830 2025,790 C2060,850 2100,1000 2120,1100 C2135,1180 2140,1230 2135,1260"/>
<path d="M790,800 C795,900 800,1000 840,1060 C860,1090 870,1150 930,1160 L990,1165"/>
<path d="M860,1060 C1200,1070 1700,1180 2050,1270"/>
<path d="M990,1165 C1300,1190 1700,1270 2000,1345"/>
<path d="M980,1170 L982,1245"/>
<path d="M1815,145 C1930,350 2050,650 2105,900 C2140,1050 2150,1180 2140,1260"/>
<g stroke-width="7"><path d="M1605,145 L1620,280 L1670,360 M1750,385 L1850,385 M2080,1270 L2085,1310"/><path d="M1840,300 C1880,400 1920,600 1940,860" stroke-dasharray="60 25"/></g>
<g fill="#8e8d8d" stroke="#3a3a3a" stroke-width="8">
<path d="M650,475 C750,445 1100,425 1330,445 C1250,520 1100,575 950,575 C820,570 700,520 650,475 Z"/>
<path d="M905,845 C1100,840 1400,870 1590,905 C1500,960 1350,990 1230,985 C1100,975 960,910 905,845 Z"/>
</g>
</g>
</svg><!--TBL5E-->
</body>
</html>
